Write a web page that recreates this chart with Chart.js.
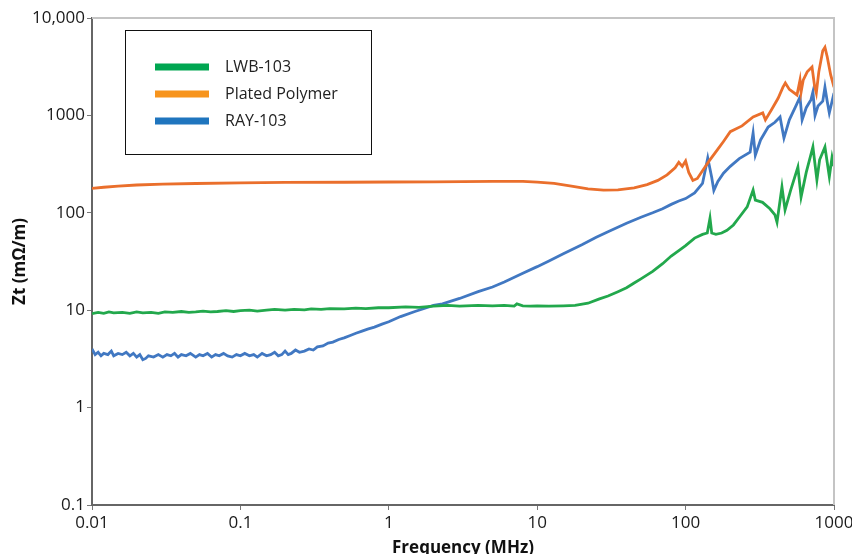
<!DOCTYPE html>
<html>
<head>
<meta charset="utf-8">
<script src="https://cdn.jsdelivr.net/npm/chart.js@4"></script>
<style>
  html, body { margin: 0; padding: 0; background: #fff; }
  #wrap { width: 852px; height: 554px; }
</style>
</head>
<body>
<div id="wrap"><canvas id="ztChart" width="852" height="554"></canvas></div>
<script>
// tick values and labels
const xTickValues = [0.01, 0.1, 1, 10, 100, 1000];
const xTickLabels = ["0.01", "0.1", "1", "10", "100", "1000"];
const yTickValues = [0.1, 1, 10, 100, 1000, 10000];
const yTickLabels = ["0.1", "1", "10", "100", "1000", "10,000"];

const seriesNames = ["LWB-103", "Plated Polymer", "RAY-103"];

// LWB-103 (green)
const freqLwb = [0.01, 0.011, 0.012, 0.013, 0.014, 0.016, 0.018, 0.02, 0.022, 0.025, 0.028, 0.031, 0.035, 0.04, 0.045, 0.05, 0.056, 0.063, 0.07, 0.08, 0.09, 0.1, 0.115, 0.13, 0.15, 0.17, 0.2, 0.23, 0.27, 0.3, 0.35, 0.4, 0.5, 0.6, 0.7, 0.85, 1, 1.3, 1.6, 2, 2.5, 3, 4, 5, 6, 7, 7.3, 8, 9, 10, 12, 15, 18, 22, 26, 30, 35, 40, 45, 50, 60, 70, 80, 90, 100, 115, 130, 140, 146, 150, 160, 175, 190, 210, 230, 260, 285, 295, 330, 370, 400, 413, 446, 468, 510, 571, 600, 650, 721, 767, 800, 869, 930, 970, 1000];
const zLwb = [9.2, 9.5, 9.3, 9.6, 9.4, 9.5, 9.3, 9.6, 9.4, 9.5, 9.3, 9.6, 9.5, 9.7, 9.5, 9.6, 9.8, 9.6, 9.7, 9.9, 9.7, 9.9, 10.0, 9.8, 10.0, 10.2, 10.0, 10.2, 10.1, 10.3, 10.2, 10.4, 10.3, 10.5, 10.4, 10.6, 10.6, 10.8, 10.7, 11.0, 11.2, 11.0, 11.2, 11.1, 11.2, 11.0, 11.6, 11.1, 11.0, 11.1, 11.0, 11.1, 11.2, 11.8, 13, 14, 15.5, 17, 19, 21, 25, 30, 36, 41, 46, 55, 60, 62, 88, 62, 60, 62, 66, 75, 90, 115, 171, 135, 128, 110, 95, 80, 184, 107, 170, 295, 145, 260, 474, 217, 350, 474, 235, 372, 300];

// Plated Polymer (orange)
const freqPoly = [0.01, 0.012, 0.015, 0.02, 0.03, 0.05, 0.1, 0.2, 0.5, 1, 2, 5, 8, 10, 13, 17, 22, 28, 35, 45, 55, 65, 75, 85, 90, 95, 100, 105, 112, 120, 130, 145, 165, 180, 200, 240, 285, 331, 345, 380, 420, 453, 470, 500, 563, 590, 600, 620, 660, 711, 740, 760, 790, 840, 869, 900, 950, 1000];
const zPoly = [178, 183, 188, 193, 197, 200, 203, 205, 206, 207, 208, 210, 210, 207, 200, 188, 176, 171, 172, 180, 195, 215, 245, 290, 330, 300, 340, 260, 215, 225, 270, 345, 450, 540, 680, 780, 964, 1060, 900, 1150, 1500, 1950, 2150, 1850, 1620, 2300, 1740, 2300, 2800, 3140, 2000, 1700, 2800, 4600, 5000, 4000, 2600, 1950];

// RAY-103 (blue)
const freqRay = [0.01, 0.0105, 0.011, 0.0115, 0.012, 0.0128, 0.0135, 0.014, 0.015, 0.016, 0.017, 0.018, 0.019, 0.02, 0.021, 0.022, 0.023, 0.024, 0.026, 0.028, 0.03, 0.032, 0.034, 0.036, 0.038, 0.04, 0.043, 0.046, 0.05, 0.053, 0.056, 0.06, 0.064, 0.068, 0.072, 0.077, 0.082, 0.088, 0.094, 0.1, 0.107, 0.115, 0.123, 0.13, 0.14, 0.15, 0.16, 0.17, 0.18, 0.19, 0.2, 0.21, 0.22, 0.235, 0.25, 0.27, 0.29, 0.31, 0.33, 0.36, 0.39, 0.42, 0.46, 0.5, 0.55, 0.6, 0.66, 0.72, 0.8, 0.9, 1, 1.2, 1.5, 2, 2.3, 3, 4, 5, 6, 8, 10, 12, 15, 20, 25, 30, 40, 50, 60, 70, 80, 90, 100, 115, 130, 141, 150, 155, 165, 180, 200, 230, 272, 285, 295, 320, 360, 400, 433, 450, 460, 500, 560, 590, 610, 650, 700, 721, 745, 780, 840, 869, 900, 930, 960, 1000];
const zRay = [4.0, 3.5, 3.7, 3.4, 3.6, 3.5, 3.8, 3.4, 3.6, 3.5, 3.7, 3.4, 3.6, 3.3, 3.5, 3.1, 3.2, 3.4, 3.3, 3.5, 3.3, 3.5, 3.4, 3.6, 3.3, 3.5, 3.4, 3.6, 3.3, 3.5, 3.4, 3.6, 3.3, 3.5, 3.4, 3.6, 3.4, 3.3, 3.5, 3.4, 3.6, 3.4, 3.5, 3.3, 3.6, 3.4, 3.5, 3.7, 3.4, 3.5, 3.8, 3.5, 3.6, 3.9, 3.7, 3.8, 4.0, 3.9, 4.2, 4.3, 4.6, 4.7, 5.0, 5.2, 5.5, 5.8, 6.1, 6.4, 6.7, 7.2, 7.6, 8.6, 9.7, 11.2, 11.6, 13.2, 15.5, 17.3, 19.5, 24, 28, 32, 38, 47, 56, 64, 78, 90, 100, 110, 122, 132, 140, 160, 200, 366, 230, 170, 210, 255, 300, 360, 420, 660, 390, 560, 760, 850, 964, 700, 585, 900, 1300, 1545, 900, 1200, 1450, 1740, 1000, 1250, 1400, 1950, 1400, 1060, 1300, 1700];

const lineColors = ["#22a84c", "#ea6f2c", "#4178c2"];
const legendColors = ["#00a651", "#f7941d", "#1f75be"];

function toPoints(xs, ys) {
    return xs.map((x, i) => ({ x: x, y: ys[i] }));
}

// legend box drawn inside the plot, plus light top/right frame
const frameAndLegend = {
    id: "frameAndLegend",
    afterDraw(chart) {
        const ctx = chart.ctx;
        const a = chart.chartArea;
        ctx.save();
        ctx.strokeStyle = "#c4c4c4";
        ctx.lineWidth = 2;
        ctx.beginPath();
        ctx.moveTo(a.left, a.top);
        ctx.lineTo(a.right, a.top);
        ctx.lineTo(a.right, a.bottom);
        ctx.stroke();

        ctx.strokeStyle = "#111";
        ctx.lineWidth = 1;
        ctx.strokeRect(125.5, 30.5, 246, 124);
        ctx.font = "16px 'Open Sans'";
        ctx.textBaseline = "middle";
        chart.data.datasets.forEach((ds, i) => {
            const y = 67 + i * 27;
            ctx.fillStyle = legendColors[i];
            ctx.fillRect(155, y - 3.5, 54, 7);
            ctx.fillStyle = "#222";
            ctx.fillText(ds.label, 225, y);
        });
        ctx.restore();
    }
};

document.addEventListener("DOMContentLoaded", function () {
    const ctx = document.getElementById("ztChart").getContext("2d");
    const tickFont = { family: "'Open Sans'", size: 17 };
    const titleFont = { family: "'Open Sans'", size: 17, weight: "bold" };

    const ztChart = new Chart(ctx, {
        type: "line",
        data: {
            datasets: [
                { label: seriesNames[0], data: toPoints(freqLwb, zLwb), borderColor: lineColors[0] },
                { label: seriesNames[1], data: toPoints(freqPoly, zPoly), borderColor: lineColors[1] },
                { label: seriesNames[2], data: toPoints(freqRay, zRay), borderColor: lineColors[2] }
            ]
        },
        options: {
            responsive: false,
            animation: false,
            layout: { padding: { top: 18, right: 18, left: 0, bottom: 0 } },
            elements: {
                point: { radius: 0 },
                line: { borderWidth: 2.8, tension: 0 }
            },
            plugins: {
                legend: { display: false },
                tooltip: { enabled: false }
            },
            scales: {
                x: {
                    type: "logarithmic",
                    min: 0.01,
                    max: 1000,
                    afterBuildTicks: s => { s.ticks = xTickValues.map(v => ({ value: v })); },
                    afterFit: s => { s.height = 49; s.paddingLeft = 0; s.paddingRight = 0; },
                    ticks: {
                        callback: (v, i) => xTickLabels[i],
                        font: tickFont,
                        color: "#1a1a1a",
                        padding: 3,
                        maxRotation: 0,
                        autoSkip: false
                    },
                    grid: { drawOnChartArea: false, drawTicks: true, tickLength: 5, color: "#777" },
                    border: { color: "#666", width: 2 },
                    title: { display: true, text: "Frequency (MHz)", font: titleFont, color: "#111", padding: { top: 0, bottom: -4 } }
                },
                y: {
                    type: "logarithmic",
                    min: 0.1,
                    max: 10000,
                    afterBuildTicks: s => { s.ticks = yTickValues.map(v => ({ value: v })); },
                    afterFit: s => { s.width = 92; s.paddingTop = 0; s.paddingBottom = 0; },
                    ticks: {
                        callback: (v, i) => yTickLabels[i],
                        font: tickFont,
                        color: "#1a1a1a",
                        padding: 2,
                        autoSkip: false
                    },
                    grid: { drawOnChartArea: false, drawTicks: true, tickLength: 5, color: "#777" },
                    border: { color: "#666", width: 2 },
                    title: { display: true, text: "Zt (mΩ/m)", font: titleFont, color: "#111", padding: { top: 10, bottom: 0 } }
                }
            }
        },
        plugins: [frameAndLegend]
    });
});
</script>
</body>
</html>
